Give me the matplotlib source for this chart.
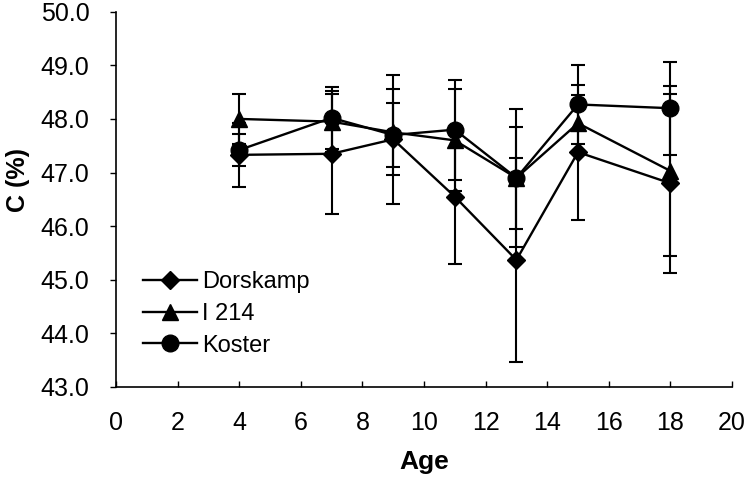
import matplotlib.pyplot as plt
from matplotlib.lines import Line2D
from matplotlib.ticker import FormatStrFormatter

ages = [4, 7, 9, 11, 13, 15, 18]

dorskamp = [47.33, 47.35, 47.62, 46.55, 45.37, 47.38, 46.80]
dorskamp_err = [0.60, 1.12, 1.20, 1.25, 1.90, 1.26, 1.67]

i214 = [48.00, 47.95, 47.75, 47.60, 46.90, 47.92, 47.03]
i214_err = [0.47, 0.57, 0.80, 0.95, 0.95, 0.53, 1.58]

koster = [47.42, 48.02, 47.70, 47.80, 46.90, 48.27, 48.20]
koster_err = [0.30, 0.58, 0.60, 0.93, 1.28, 0.73, 0.87]

SERIES = [
    ("Dorskamp", dorskamp, dorskamp_err, "D", 9.5),
    ("I 214", i214, i214_err, "^", 11),
    ("Koster", koster, koster_err, "o", 12),
]

plt.rcParams["font.family"] = ["Liberation Sans", "DejaVu Sans"]

fig = plt.figure(figsize=(7.47, 4.78), dpi=100)
ax = fig.add_axes([116 / 747, 1 - 387 / 478, 616 / 747, 375.3 / 478])

handles = []
for name, vals, errs, marker, ms in SERIES:
    ax.errorbar(ages, vals, yerr=errs, color="black", marker=marker,
                markersize=ms, linewidth=1.7, elinewidth=1.5, capsize=5,
                capthick=1.5)
    # legend proxy without the error bar
    handles.append(Line2D([], [], color="black", marker=marker, markersize=ms,
                          linewidth=1.7, label=name))

ax.set_xlim(0, 20)
ax.set_ylim(43, 50)
ax.set_xticks(range(0, 21, 2))
ax.set_yticks(range(43, 51))
ax.yaxis.set_major_formatter(FormatStrFormatter("%.1f"))

for side in ("top", "right"):
    ax.spines[side].set_visible(False)
for side in ("left", "bottom"):
    ax.spines[side].set_linewidth(1.2)

ax.tick_params(axis="y", direction="out", length=4, width=1, pad=15, labelsize=18)
ax.tick_params(axis="x", direction="in", length=4, width=1, pad=17, labelsize=18)

ax.set_xlabel("Age", fontsize=19, fontweight="bold", labelpad=11)
fig.text(18 / 747, 1 - 180 / 478, "C (%)", rotation=90, fontsize=18,
         fontweight="bold", ha="center", va="center")

ax.legend(handles=handles, loc="center left", bbox_to_anchor=(0.044, 0.195),
          frameon=False, fontsize=17, handlelength=2.3, handletextpad=0.2,
          labelspacing=0.42, borderpad=0, borderaxespad=0)

fig.savefig("out.png", dpi=100)
